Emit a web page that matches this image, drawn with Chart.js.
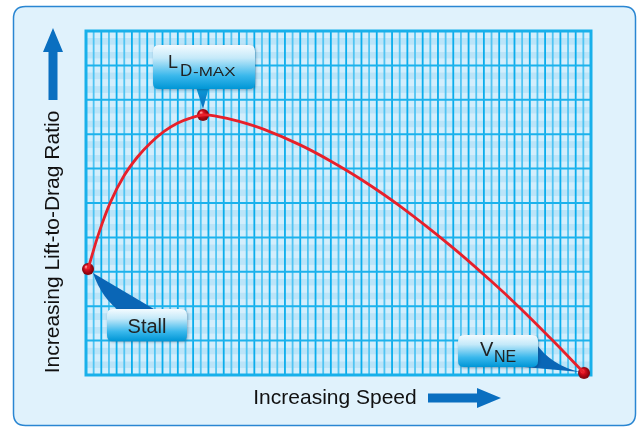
<!DOCTYPE html>
<html><head><meta charset="utf-8">
<script src="https://cdn.jsdelivr.net/npm/chart.js@4.4.1/dist/chart.umd.min.js"></script>
<style>html,body{margin:0;padding:0;background:#fff;}canvas{display:block;}</style>
</head><body>
<canvas id="c" width="639" height="428"></canvas>
<script>
// ---- data ----
const speed      = [0.26, 1.70, 3.23, 4.97, 6.70, 8.46, 10.2, 11.93, 13.68, 15.29, 17.12, 19.74, 23.27, 27.97, 31.89, 36.07, 41.04, 47.58, 52.80, 56.72, 60.65, 65.09];
const liftToDrag = [3.08, 4.14, 5.04, 5.79, 6.33, 6.75, 7.08, 7.32, 7.47, 7.56, 7.52, 7.39, 7.14, 6.69, 6.23, 5.67, 4.91, 3.77, 2.76, 1.95, 1.08, 0.06];
const markerNames = ['Stall', 'LD-MAX', 'VNE'];
const markerIndex = [0, 9, 21];
const xTitle = 'Increasing Speed';
const yTitle = 'Increasing Lift-to-Drag Ratio';
const xMax = 66, yMax = 10, bandsPerMajor = 5;

const FONT = "'Liberation Sans', Arial, Helvetica, sans-serif";

function sphere(r) {
  const c = document.createElement('canvas');
  c.width = c.height = 2 * r + 2;
  const g = c.getContext('2d');
  const cx = r + 1, cy = r + 1;
  const grad = g.createRadialGradient(cx - r * 0.35, cy - r * 0.4, r * 0.1, cx, cy, r);
  grad.addColorStop(0, '#ff9090');
  grad.addColorStop(0.3, '#dd1020');
  grad.addColorStop(1, '#780008');
  g.fillStyle = grad;
  g.beginPath(); g.arc(cx, cy, r, 0, Math.PI * 2); g.fill();
  return c;
}

function roundRect(ctx, x, y, w, h, r) {
  ctx.beginPath();
  ctx.moveTo(x + r, y);
  ctx.lineTo(x + w - r, y); ctx.quadraticCurveTo(x + w, y, x + w, y + r);
  ctx.lineTo(x + w, y + h - r); ctx.quadraticCurveTo(x + w, y + h, x + w - r, y + h);
  ctx.lineTo(x + r, y + h); ctx.quadraticCurveTo(x, y + h, x, y + h - r);
  ctx.lineTo(x, y + r); ctx.quadraticCurveTo(x, y, x + r, y);
  ctx.closePath();
}

function box(ctx, x, y, w, h) {
  ctx.save();
  ctx.shadowColor = 'rgba(0,40,80,0.35)';
  ctx.shadowBlur = 3; ctx.shadowOffsetX = 1; ctx.shadowOffsetY = 1;
  const g = ctx.createLinearGradient(0, y, 0, y + h);
  g.addColorStop(0, '#f4fbff');
  g.addColorStop(0.3, '#c4e9f9');
  g.addColorStop(0.7, '#3ab8ec');
  g.addColorStop(1, '#0096d6');
  ctx.fillStyle = g;
  roundRect(ctx, x, y, w, h, 6);
  ctx.fill();
  ctx.restore();
}

const decor = {
  id: 'decor',
  beforeDraw(chart) {
    const ctx = chart.ctx;
    const xs = chart.scales.x, ys = chart.scales.y;
    ctx.save();
    roundRect(ctx, 13.5, 6.5, 622, 419, 12);
    ctx.fillStyle = '#e0f2fc'; ctx.fill();
    ctx.lineWidth = 1.5; ctx.strokeStyle = '#2a86d2'; ctx.stroke();

    const L = xs.getPixelForValue(0), R = xs.getPixelForValue(xMax);
    const T = ys.getPixelForValue(yMax), B = ys.getPixelForValue(0);
    for (let k = 0; k < yMax; k++) {
      for (let b = 0; b < bandsPerMajor; b++) {
        const y0 = ys.getPixelForValue(k + (b + 1) / bandsPerMajor);
        const y1 = ys.getPixelForValue(k + b / bandsPerMajor);
        ctx.fillStyle = (b % 2) ? '#bbe4f8' : '#d3eefc';
        ctx.fillRect(L, y0, R - L, y1 - y0);
      }
    }
    for (let i = 1; i < xMax; i++) {
      const x = xs.getPixelForValue(i);
      ctx.strokeStyle = (i % 2) ? '#50c4f2' : '#0aadec';
      ctx.lineWidth = 1.8;
      ctx.beginPath(); ctx.moveTo(x, T); ctx.lineTo(x, B); ctx.stroke();
    }
    for (let k = 1; k < yMax; k++) {
      const y = ys.getPixelForValue(k);
      ctx.strokeStyle = '#1cb2ec'; ctx.lineWidth = 2;
      ctx.beginPath(); ctx.moveTo(L, y); ctx.lineTo(R, y); ctx.stroke();
    }
    ctx.strokeStyle = '#18b0ea'; ctx.lineWidth = 3;
    ctx.strokeRect(L, T, R - L, B - T);

    ctx.fillStyle = '#0a6fc0';
    ctx.beginPath();
    ctx.moveTo(53, 28); ctx.lineTo(63, 52); ctx.lineTo(57.5, 52); ctx.lineTo(57.5, 100);
    ctx.lineTo(48.5, 100); ctx.lineTo(48.5, 52); ctx.lineTo(43, 52); ctx.closePath(); ctx.fill();
    ctx.beginPath();
    ctx.moveTo(501, 398); ctx.lineTo(477, 388); ctx.lineTo(477, 393.5); ctx.lineTo(428, 393.5);
    ctx.lineTo(428, 402.5); ctx.lineTo(477, 402.5); ctx.lineTo(477, 408); ctx.closePath(); ctx.fill();

    ctx.fillStyle = '#111';
    ctx.font = '21px ' + FONT;
    ctx.textAlign = 'center'; ctx.textBaseline = 'middle';
    ctx.fillText(xTitle, 335, 398);
    ctx.save();
    ctx.translate(53, 242); ctx.rotate(-Math.PI / 2);
    ctx.fillText(yTitle, 0, 0);
    ctx.restore();
    ctx.restore();
  },
  beforeDatasetsDraw(chart) {
    const ctx = chart.ctx;
    const meta = chart.getDatasetMeta(1);
    const p = meta.data.map(e => ({ x: e.x, y: e.y }));
    ctx.save();
    {
      const q = p[0];
      const bx = q.x + 19, by = q.y + 40, bw = 80, bh = 32;
      ctx.fillStyle = '#0a66b6';
      ctx.beginPath();
      ctx.moveTo(q.x + 5, q.y + 4);
      ctx.lineTo(bx + 52, by + 3);
      ctx.lineTo(bx + 14, by + 3);
      ctx.quadraticCurveTo(q.x + 14, q.y + 30, q.x + 5, q.y + 4);
      ctx.closePath(); ctx.fill();
      box(ctx, bx, by, bw, bh);
      ctx.fillStyle = '#222'; ctx.font = '20px ' + FONT;
      ctx.textAlign = 'center'; ctx.textBaseline = 'alphabetic';
      ctx.fillText(markerNames[0], bx + bw / 2, by + 24);
    }
    {
      const q = p[1];
      const bx = q.x - 50, by = q.y - 70, bw = 102, bh = 44;
      const g = ctx.createLinearGradient(0, by + bh, 0, q.y - 6);
      g.addColorStop(0, '#0a9ad8'); g.addColorStop(1, '#0a6cbc');
      ctx.fillStyle = g;
      ctx.beginPath();
      ctx.moveTo(q.x - 7, by + bh - 2); ctx.lineTo(q.x + 6, by + bh - 2); ctx.lineTo(q.x, q.y - 6);
      ctx.closePath(); ctx.fill();
      box(ctx, bx, by, bw, bh);
      ctx.fillStyle = '#222'; ctx.textAlign = 'left'; ctx.textBaseline = 'alphabetic';
      ctx.font = '18px ' + FONT;
      ctx.fillText('L', bx + 15, by + 23);
      ctx.font = '17px ' + FONT;
      ctx.fillText('D', bx + 27, by + 31);
      ctx.save();
      ctx.translate(bx + 40, by + 31); ctx.scale(1, 0.78);
      ctx.fillText('-MAX', 0, 0);
      ctx.restore();
    }
    {
      const q = p[2];
      const bx = q.x - 126, by = q.y - 38, bw = 80, bh = 32;
      ctx.fillStyle = '#0a66b6';
      ctx.beginPath();
      ctx.moveTo(bx + bw - 3, by + 7);
      ctx.quadraticCurveTo(bx + bw + 12, by + 30, q.x - 4, q.y - 1);
      ctx.lineTo(bx + bw - 14, by + bh);
      ctx.closePath(); ctx.fill();
      box(ctx, bx, by, bw, bh);
      ctx.fillStyle = '#222'; ctx.textAlign = 'left'; ctx.textBaseline = 'alphabetic';
      ctx.font = '20px ' + FONT;
      ctx.fillText('V', bx + 22, by + 21);
      ctx.font = '16px ' + FONT;
      ctx.fillText('NE', bx + 36, by + 27);
    }
    ctx.restore();
  }
};

new Chart(document.getElementById('c'), {
  type: 'scatter',
  data: {
    datasets: [
      {
        label: 'Lift-to-Drag',
        data: speed.map((s, i) => ({ x: s, y: liftToDrag[i] })),
        showLine: true,
        borderColor: '#e8202a',
        borderWidth: 2.8,
        pointRadius: 0,
        tension: 0.4,
        clip: false
      },
      {
        label: 'Markers',
        data: markerIndex.map(i => ({ x: speed[i], y: liftToDrag[i] })),
        showLine: false,
        pointStyle: sphere(6),
        pointRadius: 6,
        clip: false
      }
    ]
  },
  options: {
    responsive: false,
    animation: false,
    events: [],
    layout: { padding: { left: 86, top: 31, right: 48, bottom: 53 } },
    scales: {
      x: { type: 'linear', min: 0, max: xMax, display: false },
      y: { type: 'linear', min: 0, max: yMax, display: false }
    },
    plugins: { legend: { display: false }, tooltip: { enabled: false } }
  },
  plugins: [decor]
});
</script>
</body></html>
